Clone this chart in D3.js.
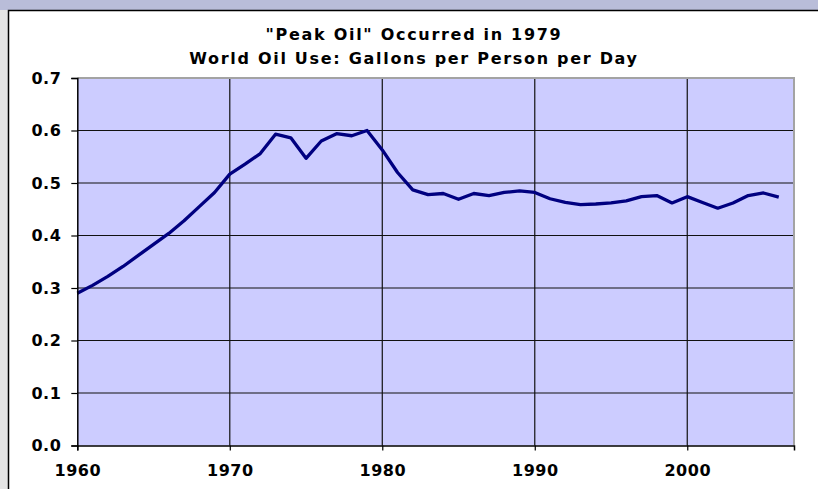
<!DOCTYPE html>
<html>
<head>
<meta charset="utf-8">
<script src="https://cdn.jsdelivr.net/npm/d3@7"></script>
<style>
  body { margin: 0; background: #e4e4e4; }
  svg { display: block; }
  text { font-family: "DejaVu Sans", Verdana, sans-serif; font-weight: bold; fill: #000; }
</style>
</head>
<body>
<div class="canvas"></div>
<script>
    // world oil use, gallons per person per day
    const years = d3.range(1960, 2007);
    const gallons = [
        0.290, 0.305, 0.322, 0.341, 0.362, 0.383, 0.404, 0.428, 0.455, 0.482,
        0.517, 0.536, 0.556, 0.593, 0.586, 0.547, 0.580, 0.594, 0.590, 0.600,
        0.563, 0.520, 0.487, 0.478, 0.480, 0.469, 0.480, 0.476, 0.482, 0.485,
        0.482, 0.470, 0.463, 0.459, 0.460, 0.462, 0.466, 0.474, 0.476, 0.462,
        0.474, 0.463, 0.452, 0.462, 0.476, 0.481, 0.473
    ];
    const xTicks = [1960, 1970, 1980, 1990, 2000];
    const yTicks = [0.0, 0.1, 0.2, 0.3, 0.4, 0.5, 0.6, 0.7];
    const titles = ['"Peak Oil" Occurred in 1979', 'World Oil Use: Gallons per Person per Day'];

    const dims = { width: 818, height: 489 };
    const plot = { left: 77.3, top: 78, right: 794, bottom: 445.5 };

    const svg = d3.select('.canvas').append('svg')
        .attr('width', dims.width)
        .attr('height', dims.height);

    // window chrome round the chart
    svg.append('rect').attr('width', dims.width).attr('height', dims.height).attr('fill', '#e4e4e4');
    svg.append('rect').attr('width', dims.width).attr('height', 10).attr('fill', '#b9bdd9');
    svg.append('rect')
        .attr('x', 8.5).attr('y', 10.5)
        .attr('width', dims.width).attr('height', dims.height)
        .attr('fill', '#fff').attr('stroke', '#000').attr('stroke-width', 1.5);

    const x = d3.scaleLinear().domain([1960, 2007]).range([plot.left, plot.right]);
    const y = d3.scaleLinear().domain([0, 0.7]).range([plot.bottom, plot.top]);

    svg.append('rect')
        .attr('x', plot.left).attr('y', plot.top)
        .attr('width', plot.right - plot.left).attr('height', plot.bottom - plot.top)
        .attr('fill', '#ccccff');

    // gridlines
    const grid = svg.append('g').attr('stroke', '#111').attr('stroke-width', 1.2);
    grid.selectAll('.hg').data(yTicks.filter(d => d > 0 && d < 0.7))
        .enter().append('line')
        .attr('x1', plot.left).attr('x2', plot.right)
        .attr('y1', d => y(d)).attr('y2', d => y(d));
    grid.selectAll('.vg').data(xTicks.filter(d => d > 1960))
        .enter().append('line')
        .attr('y1', plot.top).attr('y2', plot.bottom)
        .attr('x1', d => x(d)).attr('x2', d => x(d));

    // grey frame on top and right
    svg.append('path')
        .attr('d', `M${plot.left},${plot.top}H${plot.right}V${plot.bottom}`)
        .attr('fill', 'none').attr('stroke', '#a3a3a3').attr('stroke-width', 2);

    const line = d3.line()
        .x((d, i) => x(years[i]))
        .y(d => y(d));

    svg.append('path')
        .datum(gallons)
        .attr('d', line)
        .attr('fill', 'none')
        .attr('stroke', '#000080')
        .attr('stroke-width', 3.3)
        .attr('stroke-linejoin', 'round');

    // axes
    const yAxis = svg.append('g')
        .attr('transform', `translate(${plot.left},0)`)
        .call(d3.axisLeft(y).tickValues(yTicks).tickFormat(d3.format('.1f')).tickSizeOuter(0).tickSize(6).tickPadding(10));
    const xAxis = svg.append('g')
        .attr('transform', `translate(0,${plot.bottom})`)
        .call(d3.axisBottom(x).tickValues(xTicks).tickFormat(d3.format('d')).tickSizeOuter(0).tickSize(5));

    [yAxis, xAxis].forEach(g => {
        g.select('.domain').attr('stroke', '#000').attr('stroke-width', 1.5);
        g.selectAll('.tick line').attr('stroke', '#000').attr('stroke-width', 1.2);
        g.selectAll('text').attr('font-family', null).style('font-size', '16px')
            .style('letter-spacing', '0.5px').attr('fill', '#000');
    });
    xAxis.selectAll('text').attr('y', 30.5).attr('dy', 0);

    svg.selectAll('.title').data(titles)
        .enter().append('text')
        .attr('class', 'title')
        .attr('x', 414)
        .attr('y', (d, i) => 39.5 + i * 24.5)
        .attr('text-anchor', 'middle')
        .style('font-size', '16px')
        .style('letter-spacing', '1.7px')
        .text(d => d);
</script>
</body>
</html>
